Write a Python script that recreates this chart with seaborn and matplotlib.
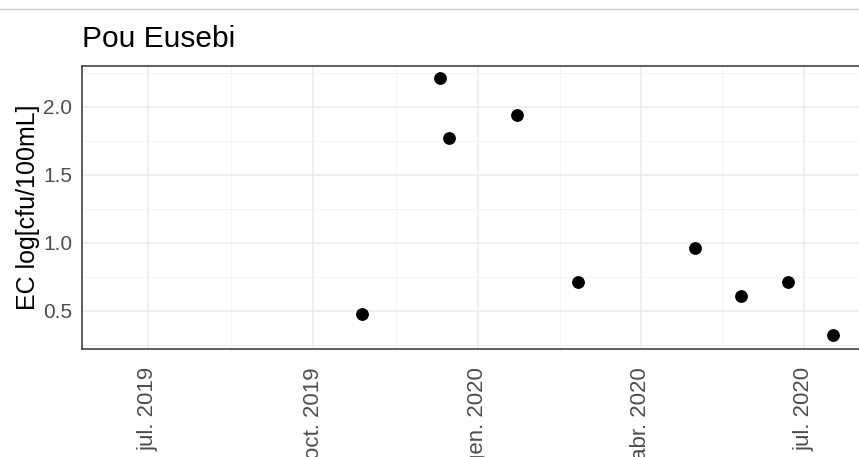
import pandas as pd
import numpy as np
import matplotlib
matplotlib.use("Agg")
import matplotlib.pyplot as plt
import matplotlib.dates as mdates
import seaborn as sns

# --------------------------------------------------
# Data
# --------------------------------------------------

sample_dates = [
    "2019-10-28", "2019-12-11", "2019-12-16", "2020-01-23",
    "2020-02-26", "2020-05-01", "2020-05-27", "2020-06-22",
    "2020-07-17",
]
ec_values = [0.48, 2.21, 1.77, 1.94, 0.71, 0.96, 0.61, 0.71, 0.32]

tick_dates = ["2019-07-01", "2019-10-01", "2020-01-01", "2020-04-01", "2020-07-01"]
tick_labels = ["jul. 2019", "oct. 2019", "gen. 2020", "abr. 2020", "jul. 2020"]

df = pd.DataFrame({"date": pd.to_datetime(sample_dates), "ec": ec_values})

# --------------------------------------------------
# Plot
# --------------------------------------------------

sns.set_style("white")
plt.rcParams["font.family"] = ["Liberation Sans", "DejaVu Sans"]

fig = plt.figure(figsize=(8.59, 4.57), dpi=100)
# panel runs past the right edge, like the cropped reference
ax = fig.add_axes([82 / 859, 108 / 457, 860 / 859, 283 / 457])

sns.scatterplot(data=df, x="date", y="ec", color="black", s=85,
                edgecolor="black", linewidth=0, ax=ax, zorder=3)

ax.set_xlim(pd.Timestamp("2019-05-25"), pd.Timestamp("2020-09-16"))
ax.set_ylim(0.22, 2.30)

ax.set_xticks(pd.to_datetime(tick_dates))
ax.set_xticklabels(tick_labels, rotation=90, va="top", ha="center")
ax.xaxis.set_minor_locator(mdates.MonthLocator(bymonth=[2, 5, 8, 11], bymonthday=16))
ax.set_yticks([0.5, 1.0, 1.5, 2.0])
ax.set_yticklabels(["0.5", "1.0", "1.5", "2.0"])
ax.set_yticks([0.25, 0.75, 1.25, 1.75, 2.25], minor=True)

ax.grid(True, which="major", color="#ebebeb", linewidth=1.1)
ax.grid(True, which="minor", color="#f2f2f2", linewidth=0.6)
ax.set_axisbelow(True)

for side in ["left", "bottom", "top", "right"]:
    ax.spines[side].set_color("#333333")
    ax.spines[side].set_linewidth(1.1)

ax.tick_params(axis="both", which="major", length=4, width=1, color="#333333",
               labelsize=15, labelcolor="#4d4d4d", direction="out", pad=3)
ax.tick_params(axis="both", which="minor", length=0)
ax.tick_params(axis="x", which="major", pad=9, labelsize=16)

ax.set_xlabel("")
ax.set_ylabel("EC log[cfu/100mL]", fontsize=18, color="black", labelpad=2)

fig.text(82 / 859, 1 - 39 / 457, "Pou Eusebi", fontsize=21.5, va="center",
         ha="left", color="black")

# thin gray line across the top of the screenshot
fig.add_artist(plt.Line2D([0, 1], [1 - 9 / 457, 1 - 9 / 457],
                          color="#c8c8c8", linewidth=1))

fig.savefig("out.png", dpi=100)
